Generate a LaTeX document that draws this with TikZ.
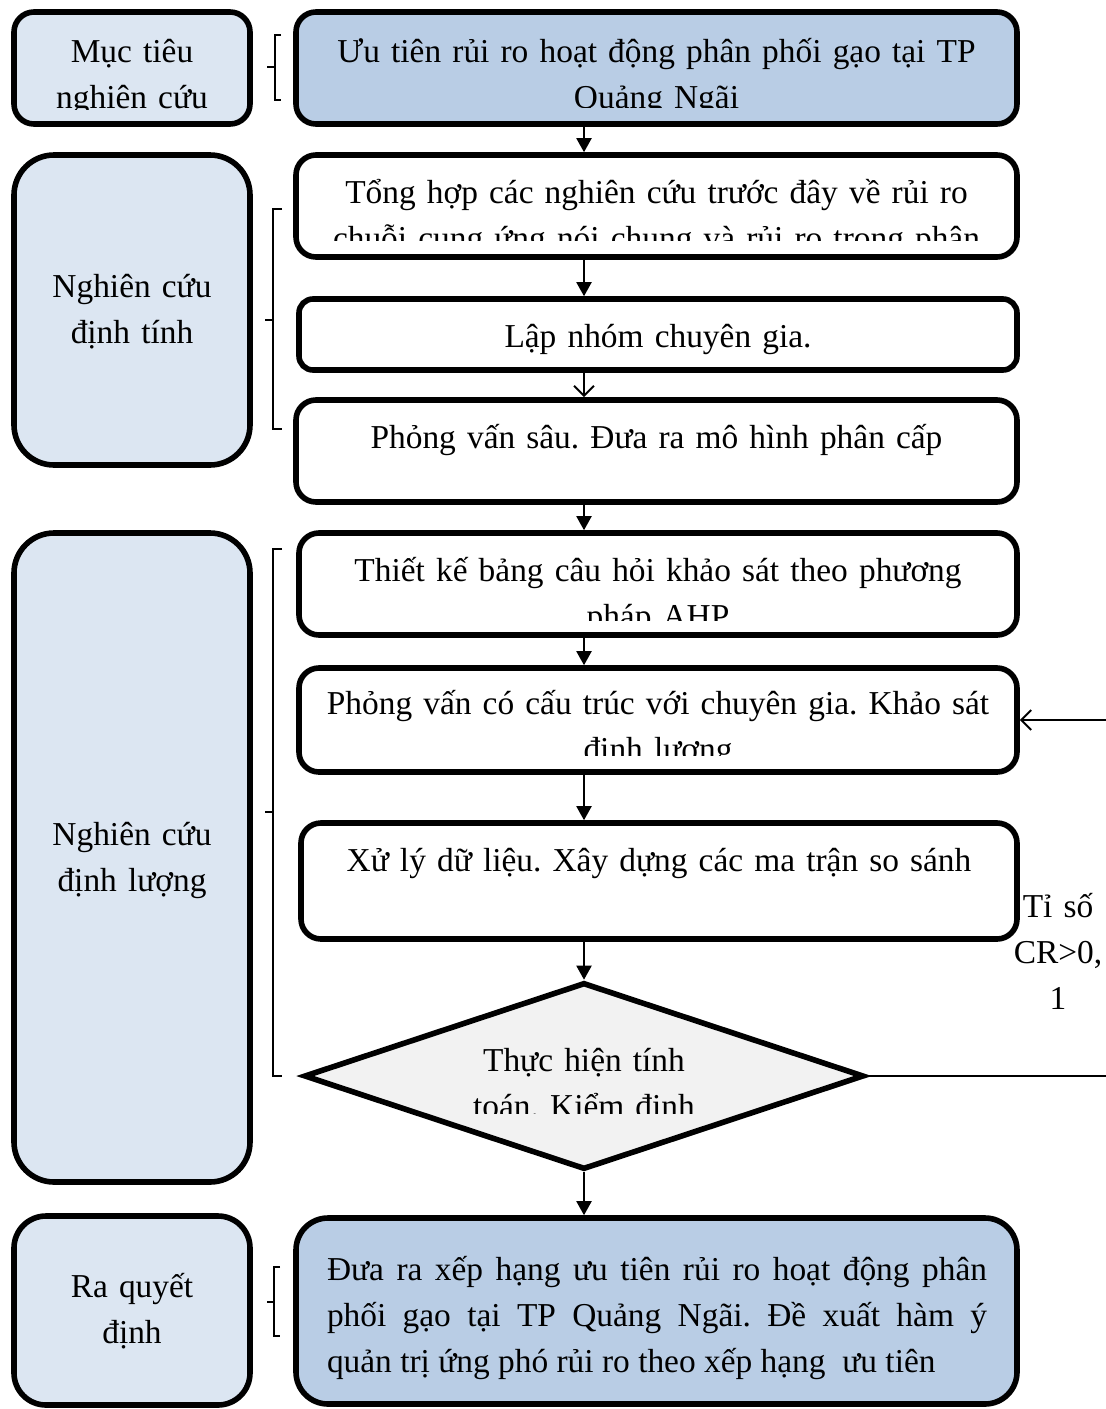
\documentclass[tikz,border=0pt]{standalone}
\usepackage{fontspec}
\setmainfont{Liberation Serif}
\usetikzlibrary{arrows.meta,shapes.geometric}
\definecolor{paleblue}{HTML}{DCE6F2}
\definecolor{midblue}{HTML}{B9CDE5}
\definecolor{palegray}{HTML}{F2F2F2}
\frenchspacing

\begin{document}
\begin{tikzpicture}[x=0.5pt,y=-0.5pt,
  side box/.style={draw,line width=2.8pt,fill=paleblue,minimum width=118pt,inner sep=0pt},
  stage box/.style={draw,line width=2.8pt,fill=white,inner sep=0pt,rounded corners=10pt},
  txt/.style={inner sep=0pt,anchor=base,align=center,font=\fontsize{16.7}{23}\selectfont},
  flow/.style={line width=1pt,-{Triangle[length=7pt,width=7.5pt]}},
  barb/.style={line width=1pt,-{Straight Barb[length=5pt,width=10pt]}},
  brace/.style={line width=0.7pt}]
\useasboundingbox (0,0) rectangle (1106,1409);

% left column
  \node[side box,rounded corners=10pt,minimum height=56pt] (goal) at (132,68) {};
  \node[side box,rounded corners=20pt,minimum height=155pt] (qual) at (132,310) {};
  \node[side box,rounded corners=20pt,minimum height=324.5pt] (quant) at (132,857.5) {};
  \node[side box,rounded corners=16pt,minimum height=94.5pt] (decide) at (132,1310.5) {};

  \begin{scope}
    \clip (14,12) rectangle (250,109);
    \node[txt,text width=118pt] (goal text) at (132,62) {Mục tiêu\\nghiên cứu};
  \end{scope}
  \node[txt,text width=118pt] (qual text) at (132,297) {Nghiên cứu\\định tính};
  \node[txt,text width=118pt] (quant text) at (132,845) {Nghiên cứu\\định lượng};
  \node[txt,text width=118pt] (decide text) at (132,1297) {Ra quyết\\định};

% braces
  \draw[brace] (281,35) -| (275,100) -- (281,100) (275,67) -- (267,67);
  \draw[brace] (282,209) -| (273,429) -- (282,429) (273,320) -- (265,320);
  \draw[brace] (282,549) -| (273,1076) -- (282,1076) (273,812) -- (265,812);
  \draw[brace] (280,1267) -| (274,1336) -- (280,1336) (274,1302) -- (267,1302);

% main column
  \node[stage box,fill=midblue,minimum width=360.5pt,minimum height=56pt] (aim) at (656.5,68) {};
  \node[stage box,minimum width=360.5pt,minimum height=51pt] (review) at (656.5,206) {};
  \node[stage box,rounded corners=7pt,minimum width=359pt,minimum height=35.5pt] (panel) at (658,334.5) {};
  \node[stage box,minimum width=360.5pt,minimum height=51pt] (depth) at (656.5,451) {};
  \node[stage box,minimum width=359pt,minimum height=51pt] (survey) at (658,584) {};
  \node[stage box,minimum width=359pt,minimum height=52pt] (expert) at (658,720) {};
  \node[stage box,minimum width=358pt,minimum height=58pt] (process) at (659,881) {};
  \node[diamond,draw,line width=2.8pt,fill=palegray,inner sep=0pt,
        minimum width=280pt,minimum height=93.5pt] (check) at (584,1076) {};
  \node[stage box,fill=midblue,rounded corners=16pt,minimum width=360.5pt,minimum height=93pt] (rank) at (656.5,1311) {};

  \begin{scope}
    \clip (296,12) rectangle (1017,107);
    \node[txt,text width=350pt] (aim text) at (656.5,62)
      {Ưu tiên rủi ro hoạt động phân phối gạo tại TP\\Quảng Ngãi};
  \end{scope}
  \begin{scope}
    \clip (296,155) rectangle (1017,240);
    \node[txt,text width=350pt] (review text) at (656.5,203)
      {Tổng hợp các nghiên cứu trước đây về rủi ro\\chuỗi cung ứng nói chung và rủi ro trong phân};
  \end{scope}
  \node[txt,text width=350pt] (panel text) at (658,347) {Lập nhóm chuyên gia.};
  \node[txt,text width=350pt] (depth text) at (656.5,448) {Phỏng vấn sâu. Đưa ra mô hình phân cấp};
  \begin{scope}
    \clip (299,533) rectangle (1017,620);
    \node[txt,text width=350pt] (survey text) at (658,581)
      {Thiết kế bảng câu hỏi khảo sát theo phương\\pháp AHP};
  \end{scope}
  \begin{scope}
    \clip (299,668) rectangle (1017,755);
    \node[txt,text width=350pt] (expert text) at (658,714)
      {Phỏng vấn có cấu trúc với chuyên gia. Khảo sát\\định lượng};
  \end{scope}
  \node[txt,text width=350pt] (process text) at (659,871) {Xử lý dữ liệu. Xây dựng các ma trận so sánh};
  \begin{scope}
    \clip (300,990) rectangle (868,1113);
    \node[txt,text width=200pt] (check text) at (584,1071) {Thực hiện tính\\toán. Kiểm định};
  \end{scope}
  \node[txt,text width=330pt,align=justify] (rank text) at (657,1280)
    {Đưa ra xếp hạng ưu tiên rủi ro hoạt động phân\linebreak
     phối gạo tại TP Quảng Ngãi. Đề xuất hàm ý\linebreak
     quản trị ứng phó rủi ro theo xếp hạng \ ưu tiên};

% flow arrows
  \path[flow]
    (aim.south -| check.north) edge (review.north -| check.north)
    (review.south -| check.north) edge (panel.north -| check.north)
    (depth.south -| check.north) edge (survey.north -| check.north)
    (survey.south -| check.north) edge (expert.north -| check.north)
    (expert.south -| check.north) edge (process.north -| check.north)
    (process.south -| check.north) edge (check.north)
    (check.south) edge (rank.north -| check.south);
  \path[barb]
    (panel.south -| check.north) edge (depth.north -| check.north);

% feedback loop
  \coordinate (loop) at (1140,1076);
  \draw[barb] (check.east) -- (loop) |- (expert.east);
  \node[txt,text width=50pt] (ratio) at (1058,917) {Tỉ số\\CR>0,\\1};

\end{tikzpicture}
\end{document}
